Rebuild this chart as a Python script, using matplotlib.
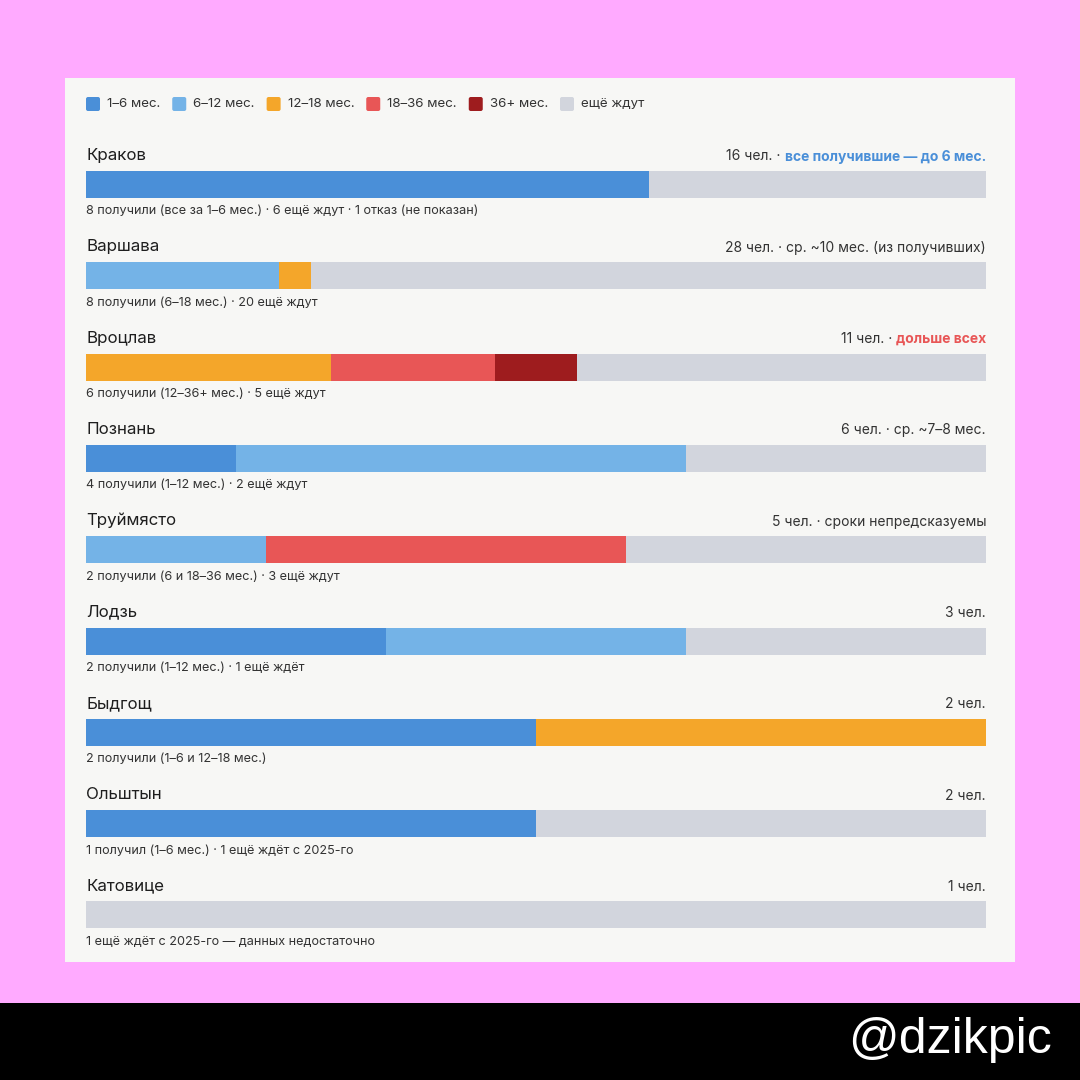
import matplotlib
matplotlib.use("Agg")
import matplotlib.pyplot as plt
from matplotlib.patches import Rectangle, FancyBboxPatch

plt.rcParams['font.family'] = ['Inter', 'DejaVu Sans']

# ---- data ----
categories = ["1–6 мес.", "6–12 мес.", "12–18 мес.", "18–36 мес.", "36+ мес.", "ещё ждут"]
colors = ["#4A8FD8", "#74B3E7", "#F4A62A", "#E85656", "#9E1C1E", "#D2D5DD"]

cities = ["Краков", "Варшава", "Вроцлав", "Познань", "Труймясто",
          "Лодзь", "Быдгощ", "Ольштын", "Катовице"]
totals = [16, 28, 11, 6, 5, 3, 2, 2, 1]
# counts per category: 1-6, 6-12, 12-18, 18-36, 36+, waiting
seg_1_6 = [10, 0, 0, 1, 0, 1, 1, 1, 0]
seg_6_12 = [0, 6, 0, 3, 1, 1, 0, 0, 0]
seg_12_18 = [0, 1, 3, 0, 0, 0, 1, 0, 0]
seg_18_36 = [0, 0, 2, 0, 2, 0, 0, 0, 0]
seg_36p = [0, 0, 1, 0, 0, 0, 0, 0, 0]
seg_wait = [6, 21, 5, 2, 2, 1, 0, 1, 1]

notes = [
    "8 получили (все за 1–6 мес.) · 6 ещё ждут · 1 отказ (не показан)",
    "8 получили (6–18 мес.) · 20 ещё ждут",
    "6 получили (12–36+ мес.) · 5 ещё ждут",
    "4 получили (1–12 мес.) · 2 ещё ждут",
    "2 получили (6 и 18–36 мес.) · 3 ещё ждут",
    "2 получили (1–12 мес.) · 1 ещё ждёт",
    "2 получили (1–6 и 12–18 мес.)",
    "1 получил (1–6 мес.) · 1 ещё ждёт с 2025-го",
    "1 ещё ждёт с 2025-го — данных недостаточно",
]
right_plain = ["16 чел. · ", "28 чел. · ср. ~10 мес. (из получивших)", "11 чел. · ",
               "6 чел. · ср. ~7–8 мес.", "5 чел. · сроки непредсказуемы",
               "3 чел.", "2 чел.", "2 чел.", "1 чел."]
right_bold = ["все получившие — до 6 мес.", "", "дольше всех", "", "", "", "", "", ""]
right_bold_color = ["#4A8FD8", None, "#E85656", None, None, None, None, None, None]

segments = [seg_1_6, seg_6_12, seg_12_18, seg_18_36, seg_36p, seg_wait]

# ---- figure ----
W = H = 1080
fig = plt.figure(figsize=(10.8, 10.8), dpi=100)
fig.patch.set_facecolor("#FFAAFF")
bg = fig.add_axes([0, 0, 1, 1])
bg.set_xlim(0, W)
bg.set_ylim(H, 0)
bg.axis("off")

# panel and bottom band
bg.add_patch(Rectangle((65, 78), 950, 884, facecolor="#F7F7F5", edgecolor="none"))
bg.add_patch(Rectangle((0, 1003), 1080, 77, facecolor="black", edgecolor="none"))
bg.text(1052, 1040, "@dzikpic", color="white", fontsize=36, ha="right", va="center",
        family=["Liberation Sans", "DejaVu Sans"])

# bar axes: spans x 86..986 px, rows
x0, x1 = 86, 986
row0 = 184.5
step = 91.3
bar_h = 27
n = len(cities)
top = row0 - step / 2
bottom = row0 + step * (n - 1) + step / 2
ax = fig.add_axes([x0 / W, 1 - bottom / H, (x1 - x0) / W, (bottom - top) / H])
ax.set_xlim(0, 1)
ax.set_ylim(bottom, top)
ax.axis("off")
ax.patch.set_alpha(0)

ys = [row0 + i * step for i in range(n)]
for i in range(n):
    left = 0.0
    for s, c in zip(segments, colors):
        v = s[i] / totals[i]
        if v > 0:
            ax.barh(ys[i], v, left=left, height=bar_h, color=c, edgecolor="none")
        left += v

renderer = fig.canvas.get_renderer()
dark = "#1E1E1E"
for i in range(n):
    yb = ys[i]
    bg.text(x0, yb - 29, cities[i], fontsize=12.2, color=dark, ha="left", va="center")
    bg.text(x0, yb + 27, notes[i], fontsize=9.1, color="#333333", ha="left", va="center")
    xr = x1
    if right_bold[i]:
        t = bg.text(xr, yb - 28, right_bold[i], fontsize=10, fontweight="bold",
                    color=right_bold_color[i], ha="right", va="center")
        bb = t.get_window_extent(renderer)
        xr = xr - bb.width
    bg.text(xr, yb - 28, right_plain[i], fontsize=10, color="#333333", ha="right", va="center")

# legend
lx = 86
ly = 104
for lab, c in zip(categories, colors):
    bg.add_patch(FancyBboxPatch((lx, ly - 7), 14, 14, boxstyle="round,pad=0,rounding_size=2",
                                facecolor=c, edgecolor="none"))
    t = bg.text(lx + 21, ly, lab, fontsize=9.6, color="#333333", ha="left", va="center")
    bb = t.get_window_extent(renderer)
    lx = lx + 21 + bb.width + 12

fig.savefig("out.png", dpi=100, facecolor=fig.get_facecolor())
